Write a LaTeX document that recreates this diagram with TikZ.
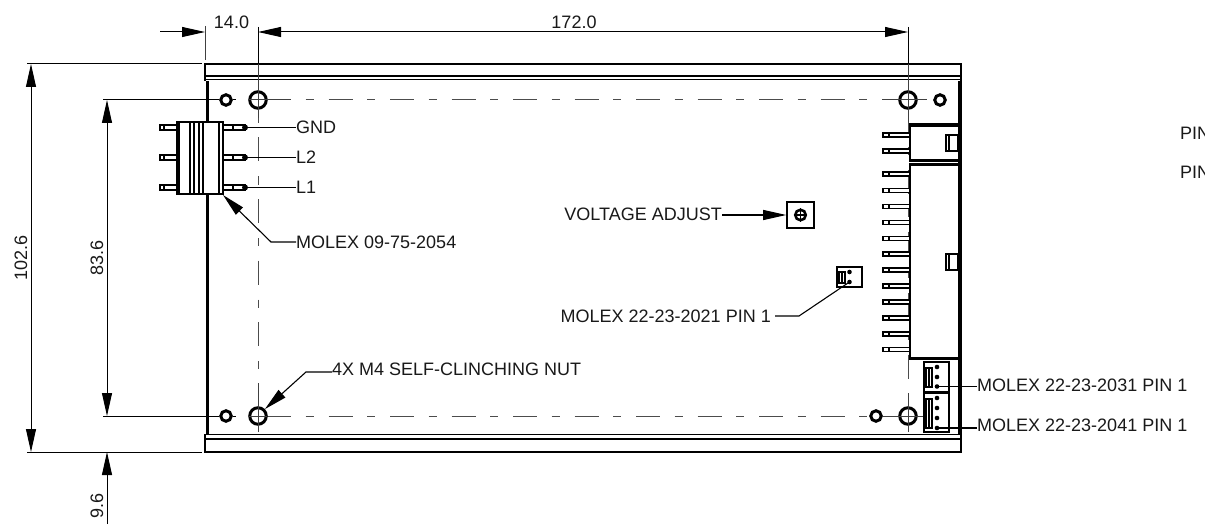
\documentclass[tikz,border=0pt]{standalone}
\usepackage{fontspec}
\setmainfont{Liberation Sans}
\usetikzlibrary{arrows.meta}
\tikzset{
  lab/.style={inner sep=0pt,font=\fontsize{18}{21}\selectfont,text=black!90},
  labr/.style={lab,anchor=west},
  dim/.style={line width=1pt,draw=black},
  dimarrow/.style={dim,-{Triangle[length=23pt,width=10pt]}},
  dimboth/.style={dim,{Triangle[length=23pt,width=10pt]}-{Triangle[length=23pt,width=10pt]}},
  ext/.style={line width=1pt,draw=black!75},
  lead/.style={line width=1.1pt,draw=black},
  centerh/.style={line width=1pt,draw=black!70,dash pattern=on 24pt off 14.5pt on 8pt off 15pt},
  centerv/.style={line width=1pt,draw=black!70,dash pattern=on 8pt off 14.5pt on 24pt off 15pt},
  centerw/.style={line width=1pt,draw=black!70,dash pattern=on 24pt off 14.5pt on 8pt off 15pt},
  thick plate/.style={line width=3pt},
  thin plate/.style={line width=1.5pt},
  hole/.style={draw,circle,line width=3pt,fill=none,inner sep=0pt},
  pinbody/.style={draw,line width=1.4pt,fill=white},
  dot/.style={circle,fill=black,inner sep=0pt,minimum size=4.6pt},
}
\begin{document}
\begin{tikzpicture}[x=1pt,y=-1pt]
\clip (0,0) rectangle (1205,532);
\fill[white] (0,0) rectangle (1205,532);
\coordinate (hTLa) at (258,100);
\coordinate (hTRa) at (908,100);
\coordinate (hBLa) at (258,416);
\coordinate (hBRa) at (908,416);
% centre lines
\draw[centerh] (267,100) -- (906,100);
\draw[centerh] (267,416) -- (868,416);
\draw[centerv] (258,115) -- (258,408);
\draw[centerw] (908,108.5) -- (908,379);
% plate
\draw[thin plate] (205,81) -- (205,64) -- (961,64) -- (961,452) -- (205,452) -- (205,434);
\draw[line width=1.6pt] (205,76) -- (961,76);
\draw[line width=1.4pt] (205,79.5) -- (961,79.5);
\draw[line width=1.8pt] (205,434.5) -- (961,434.5);
\draw[line width=1.4pt] (205,439) -- (961,439);
\draw[thick plate] (207,81) -- (207,434);
\draw[thick plate] (959.5,81) -- (959.5,434);
% holes
\node[hole,minimum size=16.5pt] (h1) at (hTLa) {};
\node[hole,minimum size=16.5pt] (h2) at (hTRa) {};
\node[hole,minimum size=16.5pt] (h3) at (hBLa) {};
\node[hole,minimum size=16.5pt] (h4) at (hBRa) {};
\node[hole,minimum size=10.5pt] (s1) at (226,100) {};
\node[hole,minimum size=10.5pt] (s2) at (940,100) {};
\node[hole,minimum size=10.5pt] (s3) at (226,416) {};
\node[hole,minimum size=10.5pt] (s4) at (876,416) {};
% extension and centre marks
\draw[ext] (205,26) -- (205,60);
\draw[dim] (258,27) -- (258,64);
\draw[ext] (258,64) -- (258,118);
\draw[dim] (908,27) -- (908,64);
\draw[ext] (908,64) -- (908,122);
\draw[ext] (248,100) -- (291,100);
\draw[ext] (882,100) -- (927,100);
\draw[ext] (248,416) -- (267,416);
\draw[ext] (s4.east) -- (923,416);
\draw[ext] (258,383) -- (258,432);
\draw[ext] (908,393) -- (908,432);
% dimensions
\coordinate (dTa) at (160,32);
\coordinate (dTb) at (205,32);
\coordinate (dTc) at (258,32);
\coordinate (dTd) at (908,32);
\draw[dimarrow] (dTa) -- (dTb);
\draw[dimboth] (dTc) -- (dTd);
\node[lab] (t14) at (231.5,22) {14.0};
\node[lab] (t172) at (574,22) {172.0};
\draw[dim] (27,64) -- (202,64);
\draw[dim] (27,452) -- (202,452);
\coordinate (dLa) at (31,64);
\coordinate (dLb) at (31,452);
\draw[dimboth] (dLa) -- (dLb);
\node[lab,rotate=90] (t1026) at (21,258) {102.6};
\draw[dim] (103,100) -- (s1.west);
\draw[dim] (s1.east) -- (236,100);
\draw[dim] (103,416) -- (s3.west);
\draw[dim] (s3.east) -- (236,416);
\coordinate (dMa) at (107,100);
\coordinate (dMb) at (107,416);
\draw[dimboth] (dMa) -- (dMb);
\node[lab,rotate=90] (t836) at (97,258) {83.6};
\coordinate (dBa) at (107,524);
\coordinate (dBb) at (107,452);
\draw[dimarrow] (dBa) -- (dBb);
\node[lab,rotate=90] (t96) at (97,506) {9.6};
% left connector pins
\foreach \n/\y in {a/127.5,b/157.5,c/187.5}{
  \draw[pinbody] (160,\y-2.5) rectangle (177,\y+2.5);
  \draw[line width=1.3pt] (164,\y-2.5) -- (164,\y+2.5);
  \draw[pinbody] (223,\y-2.5) rectangle (245,\y+2.5);
  \draw[line width=1.3pt] (233,\y-2.5) -- (233,\y+2.5);
  \fill (245,\y) circle (3pt);
  \coordinate (pin\n) at (247,\y);
}
% left connector body
\draw[line width=2pt,fill=white] (177,122) rectangle (223,194);
\foreach \x/\w in {179/1.6,190/1.5,194/1.5,199/1.5,203/1.8,218.5/2}{
  \draw[line width=\w pt] (\x,122) -- (\x,194);
}
\node[labr] (gnd) at (296,127) {GND};
\node[labr] (l2) at (296,157) {L2};
\node[labr] (l1) at (296,187) {L1};
\draw[lead] (pina) -- (gnd.west |- pina);
\draw[lead] (pinb) -- (l2.west |- pinb);
\draw[lead] (pinc) -- (l1.west |- pinc);
\node[labr] (mol09) at (296,242) {MOLEX 09-75-2054};
\coordinate (tipMol) at (223,195);
\coordinate (bendMol) at (271,242);
\draw[lead,-{Triangle[length=23pt,width=10pt]}] (mol09.west) -- (bendMol) -- (tipMol);
\node[labr] (nut) at (332,369) {4X M4 SELF-CLINCHING NUT};
\coordinate (bendNut) at (306,372);
\draw[lead,-{Triangle[length=23pt,width=10pt]}] (nut.west |- bendNut) -- (bendNut) -- (h3.45);
% voltage adjust
\node[lab,anchor=east] (volt) at (722,214) {VOLTAGE ADJUST};
\node[draw,line width=1.6pt,minimum width=27pt,minimum height=26pt,inner sep=0pt] (vbox) at (800.5,215) {};
\node[draw,circle,line width=2.6pt,minimum size=10.5pt,inner sep=0pt] (vpot) at (vbox.center) {};
\draw[line width=1.8pt] (vpot.west) -- (vpot.east);
\draw[line width=1.8pt] (vpot.north) -- (vpot.south);
\draw[lead,-{Triangle[length=23pt,width=10pt]}] (volt.east |- vbox.west) -- (vbox.west);
% 2021
\node[draw,line width=1.5pt,minimum width=25pt,minimum height=20pt,inner sep=0pt] (m21) at (849.5,277) {};
\draw[line width=1.2pt] (839,272) rectangle (845,283);
\draw[line width=1.2pt] (842,272) -- (842,283);
\node[dot] (m21a) at (849.5,272) {};
\node[dot] (m21b) at (849.5,282) {};
\node[lab,anchor=east] (lab21) at (771,316) {MOLEX 22-23-2021 PIN 1};
\coordinate (bend21) at (799,316);
\draw[lead] (lab21.east |- bend21) ++(4,0) -- (bend21) -- (m21b.center);
% header pins
\foreach \y in {135,151,174,190.5,206.5,222.5,238.5,254,270,286,302,318,334,349.7}{
  \draw[pinbody] (883,\y-2) rectangle (910,\y+2);
  \draw[line width=1.2pt] (889,\y-2) -- (889,\y+2);
}
% header bodies
\draw[line width=1.6pt] (910,124) -- (910,160);
\draw[line width=3.5pt] (909,125) -- (959,125);
\draw[line width=3.5pt] (909,160.5) -- (959,160.5);
\draw[line width=3.5pt] (909,164.5) -- (959,164.5);
\draw[line width=1.6pt] (910,165) -- (910,358);
\draw[line width=2.6pt] (909,358.5) -- (959,358.5);
\draw[line width=1.2pt] (946,135) rectangle (958,151);
\draw[line width=1.2pt] (949,135) -- (949,151);
\draw[line width=1.2pt] (946,254) rectangle (958,270);
\draw[line width=1.2pt] (949,254) -- (949,270);
% small connectors
\node[draw,line width=1.5pt,fill=white,minimum width=25pt,minimum height=30pt,inner sep=0pt] (m31) at (936.5,377) {};
\node[draw,line width=1.5pt,fill=white,minimum width=25pt,minimum height=39pt,inner sep=0pt] (m41) at (936.5,412.5) {};
\draw[line width=1.2pt] (926,368) rectangle (932,387);
\draw[line width=1.2pt] (929,368) -- (929,387);
\draw[line width=1.2pt] (926,399) rectangle (932,428);
\draw[line width=1.2pt] (929,399) -- (929,428);
\node[dot] (d31a) at (937,367) {};
\node[dot] (d31b) at (937,377) {};
\node[dot] (d31c) at (937,386.5) {};
\node[dot] (d41a) at (937,398) {};
\node[dot] (d41b) at (937,408) {};
\node[dot] (d41c) at (937,418) {};
\node[dot] (d41d) at (937,428) {};
\node[labr] (lab31) at (977,385) {MOLEX 22-23-2031 PIN 1};
\node[labr] (lab41) at (977,425) {MOLEX 22-23-2041 PIN 1};
\draw[lead] (d31c.center) -- (lab31.west |- d31c);
\draw[lead] (d41d.center) -- (lab41.west |- d41d);
% labels cut by the right edge, as in the reference
\node[labr] (pin1) at (1180,133) {PIN};
\node[labr] (pin2) at (1180,172) {PIN};
\end{tikzpicture}
\end{document}
